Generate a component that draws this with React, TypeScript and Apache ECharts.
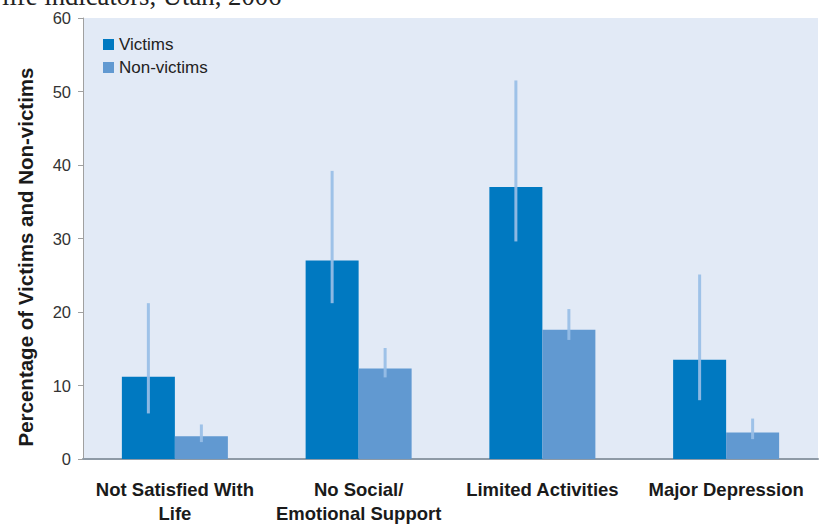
import React, { useEffect, useRef } from "react";
import * as echarts from "echarts";

const categories = ["Not Satisfied With\nLife", "No Social/\nEmotional Support", "Limited Activities", "Major Depression"];
const seriesNames = ["Victims", "Non-victims"];
const victims = [11.2, 27.0, 37.0, 13.5];
const victimsLow = [6.2, 21.2, 29.6, 8.0];
const victimsHigh = [21.2, 39.2, 51.5, 25.1];
const nonVictims = [3.1, 12.3, 17.6, 3.6];
const nonVictimsLow = [2.3, 11.1, 16.2, 2.7];
const nonVictimsHigh = [4.7, 15.1, 20.4, 5.5];
const yTicks = { min: 0, max: 60, interval: 10 };
const titleText = "life indicators, Utah, 2006";
const yAxisTitle = "Percentage of Victims and Non-victims";

const SANS = "'Liberation Sans', Arial, sans-serif";
const BAR_W = 53;

function errorSeries(low: number[], high: number[], offset: number) {
  return {
    type: "custom",
    z: 5,
    silent: true,
    data: low.map((l, i) => [i, l, high[i]]),
    renderItem: (params: any, api: any) => {
      const i = api.value(0);
      const p1 = api.coord([i, api.value(1)]);
      const p2 = api.coord([i, api.value(2)]);
      const x = p1[0] + offset;
      return {
        type: "line",
        shape: { x1: x, y1: p1[1], x2: x, y2: p2[1] },
        style: { stroke: "#98BEE6", lineWidth: 3, opacity: 0.92 },
      };
    },
  };
}

export default function App() {
  const ref = useRef<HTMLDivElement>(null);
  useEffect(() => {
    if (!ref.current) return;
    const chart = echarts.init(ref.current, null, { renderer: "svg" });
    chart.setOption({
      animation: false,
      backgroundColor: "#ffffff",
      grid: {
        left: 83,
        right: 8,
        top: 18,
        bottom: 61,
        show: true,
        backgroundColor: "#E2EAF6",
        borderWidth: 0,
      },
      legend: {
        data: seriesNames,
        orient: "vertical",
        left: 103,
        top: 36,
        padding: 0,
        itemGap: 6,
        itemWidth: 11,
        itemHeight: 11,
        icon: "rect",
        textStyle: { fontFamily: SANS, fontSize: 17, color: "#222" },
      },
      graphic: [
        {
          type: "text",
          left: 2,
          y: -4,
          style: {
            text: titleText,
            fontFamily: "'Liberation Serif', 'Times New Roman', serif",
            fontSize: 26.7,
            fill: "#222",
            verticalAlign: "middle",
          },
        },
        {
          type: "text",
          x: 25,
          y: 257,
          rotation: Math.PI / 2,
          style: {
            text: yAxisTitle,
            fontFamily: SANS,
            fontSize: 20.5,
            fontWeight: "bold",
            fill: "#1a1a1a",
            align: "center",
            verticalAlign: "middle",
          },
        },
      ],
      xAxis: {
        type: "category",
        data: categories,
        axisLine: { show: true, lineStyle: { color: "#8E9AA6", width: 2 } },
        axisTick: { show: false },
        axisLabel: {
          fontFamily: SANS,
          fontSize: 18.5,
          fontWeight: "bold",
          color: "#1a1a1a",
          lineHeight: 24,
          margin: 18,
          interval: 0,
        },
      },
      yAxis: {
        type: "value",
        min: yTicks.min,
        max: yTicks.max,
        interval: yTicks.interval,
        axisLine: { show: true, lineStyle: { color: "#A0A0A0", width: 1 } },
        axisTick: { show: true, length: 5, lineStyle: { color: "#A0A0A0" } },
        splitLine: { show: false },
        axisLabel: { fontFamily: SANS, fontSize: 16.5, color: "#333", margin: 12 },
      },
      series: [
        {
          name: seriesNames[0],
          type: "bar",
          data: victims,
          barWidth: BAR_W,
          barGap: "0%",
          itemStyle: { color: "#0079C1" },
        },
        {
          name: seriesNames[1],
          type: "bar",
          data: nonVictims,
          barWidth: BAR_W,
          barGap: "0%",
          itemStyle: { color: "#6199D1" },
        },
        errorSeries(victimsLow, victimsHigh, -BAR_W / 2),
        errorSeries(nonVictimsLow, nonVictimsHigh, BAR_W / 2),
      ],
    });
    return () => chart.dispose();
  }, []);
  return <div ref={ref} style={{ position: "absolute", left: 0, top: 0, width: 826, height: 525 }} />;
}
